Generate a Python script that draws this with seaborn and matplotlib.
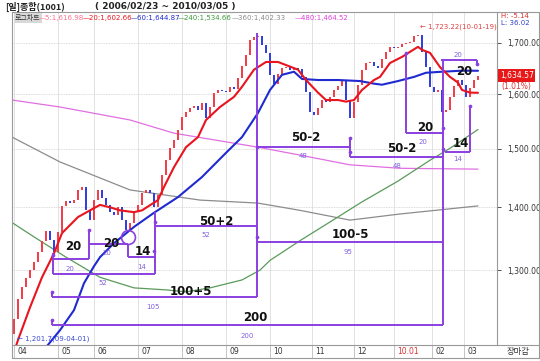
import numpy as np
import matplotlib
matplotlib.use("Agg")
import matplotlib.pyplot as plt
import matplotlib.transforms as mtransforms
from matplotlib.ticker import NullLocator
import seaborn as sns

# x axis: one unit = one trading session slot (2009-04-01 .. 2010-03-05)
month_pos = [0, 22, 40, 62, 84, 106, 128, 149, 170, 190, 209, 225]
month_labels = ["04", "05", "06", "07", "08", "09", "10", "11", "12", "10.01", "02", "03"]

# closes read every 2 sessions
first_open = 1205
closes = [1227, 1257, 1274, 1288, 1300, 1312, 1328, 1345, 1361, 1347,
          1328, 1360, 1402, 1410, 1407, 1412, 1429, 1434, 1395, 1379,
          1412, 1429, 1415, 1404, 1392, 1387, 1400, 1379, 1363, 1374,
          1392, 1404, 1424, 1429, 1424, 1400, 1420, 1455, 1480, 1501,
          1516, 1534, 1558, 1567, 1574, 1577, 1571, 1584, 1556, 1576,
          1603, 1608, 1606, 1605, 1614, 1610, 1631, 1654, 1676, 1706,
          1712, 1714, 1696, 1680, 1637, 1620, 1639, 1650, 1652, 1647,
          1650, 1648, 1633, 1605, 1567, 1561, 1574, 1589, 1586, 1595,
          1608, 1616, 1627, 1589, 1556, 1586, 1618, 1647, 1660, 1662,
          1654, 1650, 1668, 1682, 1692, 1690, 1692, 1698, 1700, 1702,
          1714, 1716, 1682, 1652, 1614, 1605, 1608, 1567, 1571, 1595,
          1616, 1627, 1618, 1595, 1612, 1627, 1634.57]

ma20_day = [0, 2, 8, 14, 20, 24, 32, 38, 43, 48, 53, 60, 64, 72, 75, 80, 86, 92, 96, 103,
            110, 114, 120, 126, 132, 136, 142, 146, 152, 156, 162, 166, 170, 174, 180, 183,
            188, 194, 202, 204, 208, 213, 218, 222, 224, 228, 232]
ma20_val = [1180, 1197, 1244, 1289, 1326, 1358, 1384, 1395, 1404, 1400, 1395, 1392, 1395, 1412,
            1434, 1468, 1503, 1521, 1552, 1576, 1595, 1614, 1647, 1662, 1662, 1656, 1647, 1627,
            1603, 1589, 1589, 1586, 1589, 1608, 1627, 1633, 1660, 1672, 1692, 1686, 1680, 1652,
            1633, 1622, 1608, 1603, 1602.66]

ma60_day = [14, 23, 30, 35, 40, 43, 50, 60, 70, 82, 94, 106, 114, 122, 128, 134, 140, 144,
            152, 162, 173, 180, 184, 192, 200, 206, 214, 224, 232]
ma60_val = [1180, 1211, 1240, 1280, 1306, 1320, 1342, 1368, 1391, 1417, 1451, 1493, 1521, 1565,
            1608, 1637, 1643, 1629, 1627, 1627, 1625, 1620, 1618, 1625, 1633, 1641, 1643, 1645,
            1644.87]

ma240_day = [-1, 10, 26, 43, 60, 76, 86, 98, 114, 123, 128, 143, 158, 174, 192, 208, 218, 232]
ma240_val = [1375, 1352, 1320, 1289, 1273, 1270, 1267, 1273, 1285, 1300, 1315, 1346, 1376,
             1409, 1444, 1480, 1501, 1534.66]

ma360_day = [-1, 23, 58, 93, 122, 143, 168, 193, 232]
ma360_val = [1521, 1477, 1429, 1412, 1407, 1395, 1379, 1389, 1402.33]

ma480_day = [-1, 23, 58, 80, 122, 143, 168, 193, 232]
ma480_val = [1589, 1576, 1552, 1528, 1503, 1489, 1472, 1466, 1464.52]

# cycle brackets: (x_from, x_to, level) and (x, y_from, y_to)
cycle_h = [(19.5, 37.5, 1317), (37.5, 57, 1341), (57, 70.5, 1320), (19.5, 70.5, 1294),
           (70.5, 121.5, 1370), (19, 121.5, 1259), (19, 214.5, 1218), (121.5, 214.5, 1344),
           (121.5, 168, 1503), (168, 214.5, 1486), (196, 214.5, 1528), (215.5, 228, 1495),
           (213.5, 231.5, 1666)]
cycle_v = [(19.5, 1326, 1294), (37.5, 1363, 1317), (57, 1341, 1320), (70.5, 1392, 1294),
           (121.5, 1720, 1259), (19, 1267, 1259), (19, 1225, 1218), (168, 1519, 1486),
           (196, 1680, 1528), (214.5, 1666, 1218), (228, 1578, 1495), (231.5, 1666, 1659)]
cycle_dots_x = [19.5, 37.5, 70.5, 70, 121.5, 121.5, 19, 19, 168, 168, 214.5, 214.5, 228, 231.5, 196]
cycle_dots_y = [1323, 1363, 1376, 1329, 1352, 1503, 1267, 1225, 1519, 1495, 1538, 1500, 1578, 1659, 1680]
big_labels = [("20", 29.5, 1337), ("20", 48.5, 1342), ("14", 64.5, 1329), ("50+2", 101, 1376),
              ("100+5", 88.5, 1267), ("200", 120.5, 1229), ("100-5", 168, 1355),
              ("50-2", 146, 1521), ("50-2", 194, 1500), ("20", 205.5, 1538),
              ("14", 223.5, 1510), ("20", 225, 1643)]
small_labels = [("20", 28, 1302), ("20", 46.5, 1326), ("14", 64, 1305), ("52", 44.5, 1280),
                ("52", 96, 1355), ("105", 69.5, 1244), ("200", 116.5, 1203), ("95", 167, 1328),
                ("48", 144.5, 1488), ("48", 191.5, 1470), ("20", 204.5, 1512),
                ("14", 222, 1482), ("20", 222, 1676)]

legend_items = [("5:1,616.98", "#ff6f8f"), ("20:1,602.66", "#e8141e"), ("60:1,644.87", "#1f2ad0"),
                ("240:1,534.66", "#3a9a3a"), ("360:1,402.33", "#8a8a8a"), ("480:1,464.52", "#e040e0")]
legend_px = [39, 83, 131, 178, 232, 295]
price_ticks = [1300, 1400, 1500, 1600, 1700]

sns.set_style("white")
plt.rcParams['font.family'] = ['DejaVu Sans', 'Noto Sans CJK KR']

W, H = 540, 361
def fx(px):
    return px / W
def fy(py):
    return 1 - py / H

fig = plt.figure(figsize=(5.4, 3.61), dpi=100)
ax = fig.add_axes([fx(12), fy(345), fx(497) - fx(12), fy(12) - fy(345)])
ax.set_yscale('log')
ax.set_xlim(-1, 241.5)
ax.set_ylim(1190, 1763)

# grid
for p in month_pos:
    ax.axvline(p, color='#dddddd', lw=0.6, zorder=0)
for p in price_ticks:
    ax.axhline(p, color='#d0d0d0', lw=0.6, ls=(0, (1, 1)), zorder=0)

# candles
days = np.arange(len(closes)) * 2
opens = np.array([first_open] + closes[:-1])
cl = np.array(closes)
up = cl >= opens
ax.bar(days[up], (cl - opens)[up], bottom=opens[up], width=1.3, color='#f2404a', lw=0, zorder=2)
ax.bar(days[~up], (opens - cl)[~up], bottom=cl[~up], width=1.3, color='#3340e0', lw=0, zorder=2)

# moving averages
sns.lineplot(x=ma480_day, y=ma480_val, ax=ax, color='#e070e0', lw=0.9, zorder=1)
sns.lineplot(x=ma360_day, y=ma360_val, ax=ax, color='#8c8c8c', lw=0.9, zorder=1)
sns.lineplot(x=ma240_day, y=ma240_val, ax=ax, color='#5a9a5a', lw=0.9, zorder=1)
sns.lineplot(x=ma60_day, y=ma60_val, ax=ax, color='#1f2ad0', lw=1.5, zorder=3)
sns.lineplot(x=ma20_day, y=ma20_val, ax=ax, color='#e8141e', lw=1.5, zorder=3)

# cycle brackets
pc = '#8a3fe0'
for x0, x1, y in cycle_h:
    ax.plot([x0, x1], [y, y], color=pc, lw=1.4, zorder=4, solid_capstyle='butt')
for x, y0, y1 in cycle_v:
    ax.plot([x, x], [y0, y1], color=pc, lw=1.4, zorder=4, solid_capstyle='butt')
ax.scatter(cycle_dots_x, cycle_dots_y, s=7, color=pc, zorder=5, lw=0)
ax.plot([57], [1352], marker='o', ms=10, mfc='none', mec=pc, mew=1.2, zorder=5)
for t, x, y in big_labels:
    ax.text(x, y, t, ha='center', va='center', fontsize=8.5, fontweight='bold', color='#111111', zorder=6)
for t, x, y in small_labels:
    ax.text(x, y, t, ha='center', va='center', fontsize=5, color='#8060e0', zorder=6)

ax.text(1.5, 1199, "\u2190 1,201.7(09-04-01)", fontsize=5, color='#3a4ad8', va='center', zorder=6)
ax.text(203, 1732, "\u2190 1,723.22(10-01-19)", fontsize=5, color='#e04040', va='center', zorder=6)

# axes cosmetics
ax.set_xticks([])
ax.set_yticks(price_ticks)
ax.yaxis.set_minor_locator(NullLocator())
ax.set_yticklabels([f"{p:,.2f}" for p in price_ticks])
ax.yaxis.tick_right()
ax.tick_params(axis='y', length=3, pad=4, labelsize=5.5, colors='#333333', width=0.6)
for s in ax.spines.values():
    s.set_color('#999999')
    s.set_linewidth(0.8)
ax.set_xlabel('')
ax.set_ylabel('')

# bottom date row
trans = mtransforms.blended_transform_factory(ax.transData, fig.transFigure)
for p, lab in zip(month_pos, month_labels):
    ax.plot([p, p], [fy(345), fy(358)], transform=trans, color='#bbbbbb', lw=0.6, clip_on=False)
    ax.text(p + 1.5, fy(351.5), lab, transform=trans, fontsize=5.5, va='center', ha='left',
            color='#e03030' if lab == "10.01" else '#333333')
fig.add_artist(plt.Line2D([fx(12), fx(539)], [fy(358), fy(358)], color='#999999', lw=0.8))
fig.add_artist(plt.Line2D([fx(497), fx(539)], [fy(345), fy(345)], color='#999999', lw=0.8))
fig.add_artist(plt.Line2D([fx(12), fx(12)], [fy(345), fy(358)], color='#999999', lw=0.8))
fig.add_artist(plt.Line2D([fx(539), fx(539)], [fy(12), fy(358)], color='#999999', lw=0.8))
fig.add_artist(plt.Line2D([fx(497), fx(539)], [fy(12), fy(12)], color='#999999', lw=0.8))
fig.text(fx(518), fy(351.5), "장마감", fontsize=6, ha='center', va='center', color='#333333',
         family=['Noto Sans CJK KR', 'DejaVu Sans'])

# header
fig.text(fx(5), fy(6.5), "[일]종합(1001)", fontsize=6.5, fontweight='bold', va='center', color='#222222',
         family=['Noto Sans CJK KR', 'DejaVu Sans'])
fig.text(fx(95), fy(6.5), "( 2006/02/23 ~ 2010/03/05 )", fontsize=6.5, fontweight='bold', va='center',
         color='#222222')
fig.text(fx(15), fy(18), "로그차트", fontsize=5, va='center', color='#333333',
         family=['Noto Sans CJK KR', 'DejaVu Sans'],
         bbox=dict(boxstyle='square,pad=0.15', fc='#d8d8d8', ec='none'))
for (t, c), px in zip(legend_items, legend_px):
    fig.text(fx(px), fy(18), "\u2014" + t, fontsize=5, va='center', color=c)

# right panel extras
fig.text(fx(501), fy(15.5), "H: -5.14", fontsize=5, va='center', color='#e03030')
fig.text(fx(501), fy(23), "L: 36.02", fontsize=5, va='center', color='#3040d0')
fig.text(fx(500), fy(75.5), "1,634.57", fontsize=5.5, va='center', color='white',
         bbox=dict(boxstyle='square,pad=0.2', fc='#e81818', ec='none'))
fig.text(fx(501), fy(86), "(1.01%)", fontsize=5.5, va='center', color='#e03030')

fig.savefig("out.png", dpi=100)
